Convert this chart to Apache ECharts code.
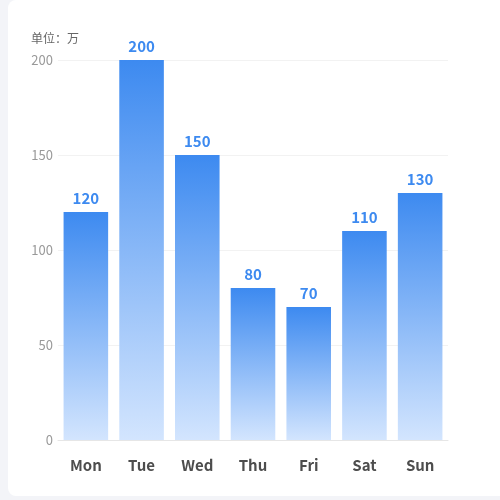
<!DOCTYPE html>
<html>
<head>
<meta charset="utf-8">
<script src="https://cdn.jsdelivr.net/npm/echarts@6/dist/echarts.min.js"></script>
<style>
    html, body { margin: 0; padding: 0; width: 500px; height: 500px; overflow: hidden; background: #f3f4f8; }
    .card { position: absolute; left: 8px; top: 0; width: 500px; height: 496px; background: #fff; border-radius: 8px; }
    #chart { width: 492px; height: 496px; }
</style>
</head>
<body>
<div class="card"><div id="chart"></div></div>
<script>
    // 星期
    var days = ['Mon', 'Tue', 'Wed', 'Thu', 'Fri', 'Sat', 'Sun'];
    // 数值（单位：万）
    var values = [120, 200, 150, 80, 70, 110, 130];
    var yTicks = [0, 50, 100, 150, 200];

    var chart = echarts.init(document.getElementById('chart'));
    var option = {
        textStyle: { fontFamily: '"Noto Sans CJK SC", "Noto Sans", sans-serif' },
        grid: { left: 50, right: 52, top: 60, bottom: 56 },
        xAxis: {
            type: 'category',
            data: days,
            axisTick: { show: false },
            axisLine: { lineStyle: { color: '#e6e6e6' } },
            axisLabel: { color: '#4d4d4d', fontSize: 15, fontWeight: 'bold', margin: 18 }
        },
        yAxis: {
            type: 'value',
            name: '单位：万',
            nameTextStyle: { color: '#666', fontSize: 12, align: 'center', padding: [0, 6, 0, 0] },
            nameGap: 16,
            min: yTicks[0],
            max: yTicks[yTicks.length - 1],
            interval: 50,
            axisLine: { show: false },
            axisTick: { show: false },
            axisLabel: { color: '#999', fontSize: 13, margin: 5 },
            splitLine: { lineStyle: { color: '#f2f2f2' } }
        },
        series: [{
            type: 'bar',
            data: values,
            barWidth: '80%',
            itemStyle: {
                color: new echarts.graphic.LinearGradient(0, 0, 0, 1, [
                    { offset: 0, color: '#3d8af0' },
                    { offset: 1, color: '#d3e5fe' }
                ])
            },
            label: {
                show: true,
                position: 'top',
                distance: 6,
                color: '#3d8af0',
                fontSize: 15,
                fontWeight: 'bold'
            }
        }]
    };
    chart.setOption(option);
</script>
</body>
</html>
